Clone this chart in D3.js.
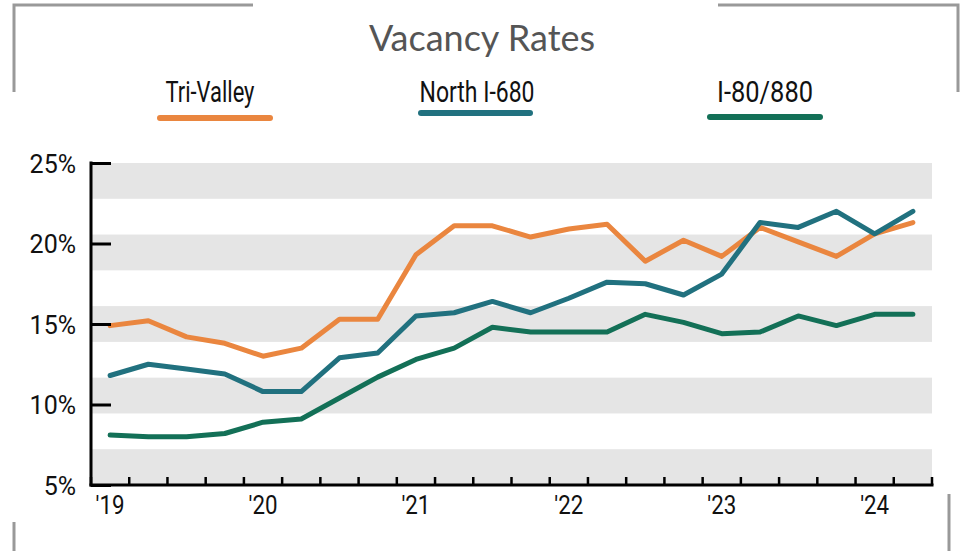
<!DOCTYPE html>
<meta charset="utf-8">
<style>
body { margin: 0; background: #fff; }
text { font-family: Roboto, "DejaVu Sans Condensed", sans-serif; }
</style>
<body>
<svg width="961" height="551"></svg>
<script src="https://cdn.jsdelivr.net/npm/d3@7"></script>
<script>
    // quarterly data, Q1 2019 - Q2 2024
    var quarters = ["2019Q1","2019Q2","2019Q3","2019Q4","2020Q1","2020Q2","2020Q3","2020Q4",
                    "2021Q1","2021Q2","2021Q3","2021Q4","2022Q1","2022Q2","2022Q3","2022Q4",
                    "2023Q1","2023Q2","2023Q3","2023Q4","2024Q1","2024Q2"];
    var triValley = [14.9,15.2,14.2,13.8,13.0,13.5,15.3,15.3,19.3,21.1,21.1,20.4,20.9,21.2,18.9,20.2,19.2,21.0,20.1,19.2,20.6,21.3];
    var north680  = [11.8,12.5,12.2,11.9,10.8,10.8,12.9,13.2,15.5,15.7,16.4,15.7,16.6,17.6,17.5,16.8,18.1,21.3,21.0,22.0,20.6,22.0];
    var i80880    = [8.1,8.0,8.0,8.2,8.9,9.1,10.4,11.7,12.8,13.5,14.8,14.5,14.5,14.5,15.6,15.1,14.4,14.5,15.5,14.9,15.6,15.6];
    var seriesNames = ["Tri-Valley", "North I-680", "I-80/880"];
    var yearLabels = ["'19", "'20", "'21", "'22", "'23", "'24"];
    var yTicks = [5, 10, 15, 20, 25];

    var colors = ["#EA863F", "#21717F", "#137057"];
    var series = [triValley, north680, i80880];

    var svg = d3.select("svg");
    var pLeft = 91, pRight = 932, pTop = 163, pBottom = 485;

    var x = d3.scaleBand().domain(quarters).range([pLeft, pRight]);
    var y = d3.scaleLinear().domain([5, 25]).range([pBottom, pTop]);

    // frame corners
    var frame = svg.append("g").attr("fill", "none").attr("stroke", "#999").attr("stroke-width", 3);
    frame.append("path").attr("d", "M14,92V5H253");
    frame.append("path").attr("d", "M718,5H958V92");
    frame.append("path").attr("d", "M14,522V551");
    frame.append("path").attr("d", "M949,494V551");

    // title
    svg.append("text")
       .attr("x", 482).attr("y", 51)
       .attr("text-anchor", "middle")
       .style("font-family", "Lato, sans-serif")
       .style("font-size", "36px")
       .attr("fill", "#555")
       .text("Vacancy Rates");

    // legend
    var legX = [210, 477, 765];
    var legW = [89, 115, 96];
    var legLine = [[160, 270, 118], [421, 530, 113], [710, 820, 117]];
    seriesNames.forEach(function(name, i) {
        svg.append("text")
           .attr("x", legX[i]).attr("y", 102)
           .attr("text-anchor", "middle")
           .attr("textLength", legW[i])
           .attr("lengthAdjust", "spacingAndGlyphs")
           .style("font-size", "30px")
           .attr("fill", "#111")
           .text(name);
        svg.append("line")
           .attr("x1", legLine[i][0]).attr("x2", legLine[i][1])
           .attr("y1", legLine[i][2]).attr("y2", legLine[i][2])
           .attr("stroke", colors[i])
           .attr("stroke-width", 6)
           .attr("stroke-linecap", "round");
    });

    // alternating bands: 9 equal slices, shaded ones at even index
    var nBands = 9;
    var bandH = (pBottom - pTop) / nBands;
    svg.append("g").selectAll("rect")
       .data(d3.range(0, nBands, 2))
       .enter().append("rect")
       .attr("x", pLeft).attr("width", pRight - pLeft)
       .attr("y", function(d) { return pTop + d * bandH; })
       .attr("height", bandH)
       .attr("fill", "#e5e5e5");

    // lines
    var line = d3.line()
        .x(function(d, i) { return x(quarters[i]) + x.bandwidth() / 2; })
        .y(function(d) { return y(d); });

    series.forEach(function(s, i) {
        svg.append("path")
           .datum(s)
           .attr("fill", "none")
           .attr("stroke", colors[i])
           .attr("stroke-width", 5)
           .attr("stroke-linejoin", "round")
           .attr("stroke-linecap", "round")
           .attr("d", line);
    });

    // y axis
    var yAxis = svg.append("g")
        .attr("transform", "translate(" + pLeft + ",0)")
        .call(d3.axisLeft(y).tickValues(yTicks).tickSize(-20).tickPadding(16)
              .tickFormat(function(d) { return d + "%"; }));
    yAxis.select(".domain").remove();
    yAxis.append("line").attr("x1", 0).attr("x2", 0).attr("y1", pTop - 1.5).attr("y2", pBottom + 1.5)
         .attr("stroke", "#000").attr("stroke-width", 3);
    yAxis.selectAll(".tick line").attr("stroke", "#000").attr("stroke-width", 3).attr("x1", 0);
    yAxis.selectAll(".tick text")
         .style("font-size", "25px")
         .attr("fill", "#111").attr("dy", "0.36em")
         .attr("x", -15);

    // x axis: ticks at quarter boundaries, labels at Q1 of each year
    var xAxis = svg.append("g").attr("transform", "translate(0," + pBottom + ")");
    var bounds = quarters.map(function(q) { return x(q); }).concat([pRight]);
    xAxis.append("line").attr("x1", pLeft - 1.5).attr("x2", pRight + 1.5)
         .attr("stroke", "#000").attr("stroke-width", 3);
    xAxis.selectAll(".qt").data(bounds).enter().append("line")
         .attr("x1", function(d) { return d; }).attr("x2", function(d) { return d; })
         .attr("y1", 0).attr("y2", -8)
         .attr("stroke", "#000").attr("stroke-width", 2.5);
    xAxis.selectAll(".yl").data(yearLabels).enter().append("text")
         .attr("x", function(d, i) { return x(quarters[i * 4]) + x.bandwidth() / 2; })
         .attr("y", 29)
         .attr("text-anchor", "middle")
         .attr("textLength", 29)
         .attr("lengthAdjust", "spacingAndGlyphs")
         .style("font-size", "25px")
         .attr("fill", "#111")
         .text(function(d) { return d; });
</script>
</body>
